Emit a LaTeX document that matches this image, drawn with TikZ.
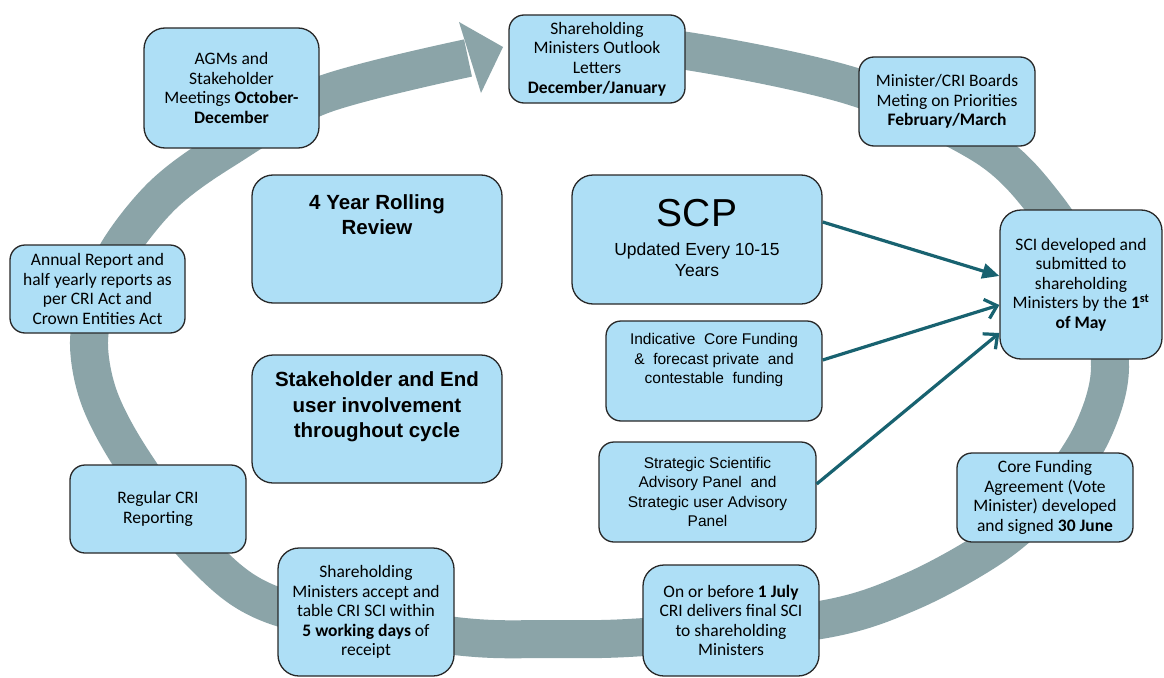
\documentclass[tikz,border=0pt]{standalone}
\usepackage{fontspec}
\setmainfont{Carlito}
\newfontfamily\arialf{Liberation Sans}
\usetikzlibrary{arrows.meta}
\definecolor{ringc}{RGB}{139,164,168}
\definecolor{boxfill}{RGB}{174,223,246}
\definecolor{boxline}{RGB}{40,40,40}
\definecolor{arrowc}{RGB}{24,98,112}
\begin{document}
\begin{tikzpicture}[x=1pt,y=-1pt,
  box/.style={draw=boxline, fill=boxfill, line width=1.3pt, rounded corners=15pt,
    inner sep=0pt, align=center, font=\fontsize{17.5}{19.6}\selectfont},
  big/.style={rounded corners=21pt},
  sz/.style 2 args={minimum width=#1pt, minimum height=#2pt},
  ringline/.style={draw=ringc, line width=38pt, line cap=butt},
  conn/.style={draw=arrowc, line width=3.2pt},
  arialtxt/.style={align=center, inner sep=0pt, font=\arialf\fontsize{15.5}{19.4}\selectfont},
  boldtxt/.style={align=center, inner sep=0pt, font=\arialf\bfseries\fontsize{20.5}{25.5}\selectfont}
]
\useasboundingbox (0,0) rectangle (1164,677);
\fill[white] (0,0) rectangle (1164,677);

% ring
\draw[ringline] plot[smooth, tension=0.55] coordinates {
  (590,46) (687,51) (855,87) (983,145) (1045,205) (1093,285) (1110,367)
  (1092,433) (1050,495) (995,545) (910,592) (820,620) (644,637) (550,639)
  (455,636) (279,607) (200,552) (134,463) (100,400) (89,345) (98,295)
  (122,245) (165,193) (224,150) (322,95) (468,58)};
\fill[ringc] (459,22) -- (503,47) -- (481,93) -- cycle;

% cycle boxes
\node[box, sz={175}{120}, big] (agm) at (231.5,88)
  {AGMs and\\Stakeholder\\Meetings \textbf{October-}\\\textbf{December}};
\node[box, sz={176}{88}] (letters) at (597,59)
  {Shareholding\\Ministers Outlook\\Letters\\\textbf{December/January}};
\node[box, sz={176}{89}] (minister) at (947,101.5)
  {Minister/CRI Boards\\Meting on Priorities\\\textbf{February/March}};
\node[box, sz={162}{149}, big] (sci) at (1081,284.5)
  {SCI developed and\\submitted to\\shareholding\\Ministers by the \textbf{1\textsuperscript{st}}\\\textbf{of May}};
\node[box, sz={176}{89}] (core) at (1045,497.5)
  {Core Funding\\Agreement (Vote\\Minister) developed\\and signed \textbf{30 June}};
\node[box, sz={176}{111}, big] (onor) at (731,620.5)
  {On or before \textbf{1 July}\\CRI delivers final SCI\\to shareholding\\Ministers};
\node[box, sz={176}{128}, big] (accept) at (366,612)
  {Shareholding\\Ministers accept and\\table CRI SCI within\\\textbf{5 working days} of\\receipt};
\node[box, sz={176}{88}] (regular) at (158,509)
  {Regular CRI\\Reporting};
\node[box, sz={175}{88}] (annual) at (97.5,289)
  {Annual Report and\\half yearly reports as\\per CRI Act and\\Crown Entities Act};

% inner boxes
\node[box, sz={250}{128}, big] (review) at (377,239) {};
\node[boldtxt] (reviewt) at (377,214.5) {4 Year Rolling\\Review};
\node[box, sz={250}{128}, big] (stake) at (377,419) {};
\node[boldtxt] (staket) at (377,407) {Stakeholder and End\\user involvement\\throughout cycle};
\node[box, sz={250}{129}, big] (scp) at (697,239.5) {};
\node[inner sep=0pt, font=\arialf\fontsize{39}{40}\selectfont] (scpt) at (697,213) {SCP};
\node[align=center, inner sep=0pt, font=\arialf\fontsize{17.5}{21.5}\selectfont] (scpu) at (697,259.5) {Updated Every 10-15\\Years};
\node[box, sz={216}{100}] (indic) at (714,371) {};
\node[arialtxt] (indict) at (714,360) {Indicative\ \ Core Funding\\\&\ \ forecast private\ \ and\\contestable\ \ funding};
\node[box, sz={217}{100}, font=\arialf\fontsize{15.5}{19.2}\selectfont] (strat) at (707.5,492)
  {Strategic Scientific\\Advisory Panel\ \ and\\Strategic user Advisory\\Panel};

% connectors
\draw[conn, -{Triangle[length=17pt,width=15pt]}] ([yshift=17.5pt]scp.east) -- ([yshift=8.5pt]sci.west);
\draw[conn, -{Straight Barb[length=11pt,width=20pt]}] ([yshift=11pt]indic.east) -- ([yshift=-20.5pt]sci.west);
\draw[conn, -{Straight Barb[length=11pt,width=20pt]}] ([yshift=8pt]strat.east) -- ([yshift=-48.5pt]sci.west);
\end{tikzpicture}
\end{document}
